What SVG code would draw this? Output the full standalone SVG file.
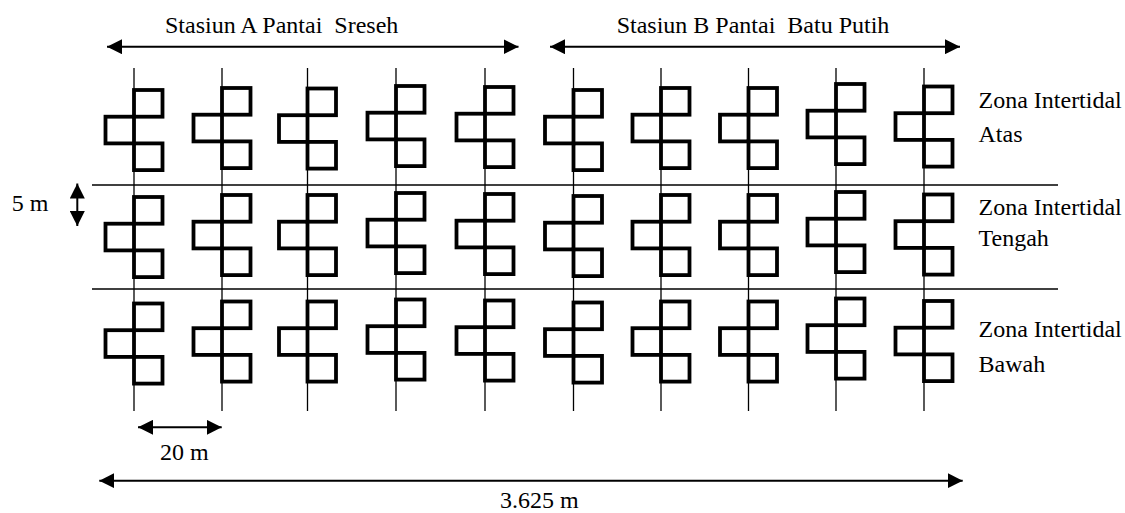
<svg xmlns="http://www.w3.org/2000/svg" width="1125" height="513" viewBox="0 0 1125 513">
<style>
.t{font-family:"Liberation Serif","Times New Roman",serif;font-size:24px;fill:#000}
.grid{stroke:#000;stroke-width:1.3;fill:none}
.q{stroke:#000;stroke-width:3.8;fill:none}
.arr{stroke:#000;stroke-width:2;fill:none;marker-start:url(#ah);marker-end:url(#ah)}
</style>
<defs>
<marker id="ah" viewBox="0 0 15 15" refX="15" refY="7.5" markerWidth="15" markerHeight="15" markerUnits="userSpaceOnUse" orient="auto-start-reverse">
<path d="M0,0 L15,7.5 L0,15 z" fill="#000"/>
</marker>
<g id="sh">
<rect class="q" x="0" y="0" width="28.5" height="26.7"/>
<rect class="q" x="-28.5" y="26.7" width="28.5" height="26.7"/>
<rect class="q" x="0" y="53.4" width="28.5" height="26.7"/>
</g>
</defs>
<rect width="1125" height="513" fill="#fff"/>
<g id="grid">
<line class="grid" x1="134" y1="68" x2="134" y2="411"/>
<line class="grid" x1="222" y1="68" x2="222" y2="411"/>
<line class="grid" x1="307.5" y1="68" x2="307.5" y2="411"/>
<line class="grid" x1="396" y1="68" x2="396" y2="411"/>
<line class="grid" x1="485" y1="68" x2="485" y2="411"/>
<line class="grid" x1="573.5" y1="68" x2="573.5" y2="411"/>
<line class="grid" x1="661" y1="68" x2="661" y2="411"/>
<line class="grid" x1="748.5" y1="68" x2="748.5" y2="411"/>
<line class="grid" x1="836" y1="68" x2="836" y2="411"/>
<line class="grid" x1="924" y1="68" x2="924" y2="411"/>
<line class="grid" x1="92" y1="185" x2="1058" y2="185"/>
<line class="grid" x1="92" y1="289" x2="1058" y2="289"/>
</g>
<g id="row1">
<use href="#sh" x="134" y="90"/>
<use href="#sh" x="222" y="88"/>
<use href="#sh" x="307.5" y="88.5"/>
<use href="#sh" x="396" y="86"/>
<use href="#sh" x="485" y="87"/>
<use href="#sh" x="573.5" y="90"/>
<use href="#sh" x="661" y="88"/>
<use href="#sh" x="748.5" y="88"/>
<use href="#sh" x="836" y="84"/>
<use href="#sh" x="924" y="86.5"/>
</g>
<g id="row2">
<use href="#sh" x="134" y="197"/>
<use href="#sh" x="222" y="195"/>
<use href="#sh" x="307.5" y="195"/>
<use href="#sh" x="396" y="193"/>
<use href="#sh" x="485" y="194"/>
<use href="#sh" x="573.5" y="196"/>
<use href="#sh" x="661" y="195"/>
<use href="#sh" x="748.5" y="195"/>
<use href="#sh" x="836" y="192"/>
<use href="#sh" x="924" y="194.5"/>
</g>
<g id="row3">
<use href="#sh" x="134" y="303.5"/>
<use href="#sh" x="222" y="301.5"/>
<use href="#sh" x="307.5" y="301.5"/>
<use href="#sh" x="396" y="299.5"/>
<use href="#sh" x="485" y="300.5"/>
<use href="#sh" x="573.5" y="302.5"/>
<use href="#sh" x="661" y="301.5"/>
<use href="#sh" x="748.5" y="301.5"/>
<use href="#sh" x="836" y="298.5"/>
<use href="#sh" x="924" y="301"/>
</g>
<g id="connectors">
<line class="arr" x1="107" y1="46.7" x2="518.5" y2="46.7"/>
<line class="arr" x1="550" y1="46.7" x2="960" y2="46.7"/>
<line class="arr" x1="77.3" y1="183.5" x2="77.3" y2="226"/>
<line class="arr" x1="138" y1="427.3" x2="221.7" y2="427.3"/>
<line class="arr" x1="99.3" y1="480.7" x2="962.7" y2="480.7"/>
</g>
<g id="labels">
<text class="t" x="165" y="33" xml:space="preserve">Stasiun A Pantai  Sreseh</text>
<text class="t" x="616.7" y="33" xml:space="preserve">Stasiun B Pantai  Batu Putih</text>
<text class="t" x="978.5" y="108.3">Zona Intertidal</text>
<text class="t" x="978.5" y="141.5">Atas</text>
<text class="t" x="978.5" y="215">Zona Intertidal</text>
<text class="t" x="978.5" y="246">Tengah</text>
<text class="t" x="978.5" y="337.3">Zona Intertidal</text>
<text class="t" x="978.5" y="371.5">Bawah</text>
<text class="t" x="11.7" y="210.7">5 m</text>
<text class="t" x="160" y="460">20 m</text>
<text class="t" x="500" y="507.5">3.625 m</text>
</g>
</svg>
